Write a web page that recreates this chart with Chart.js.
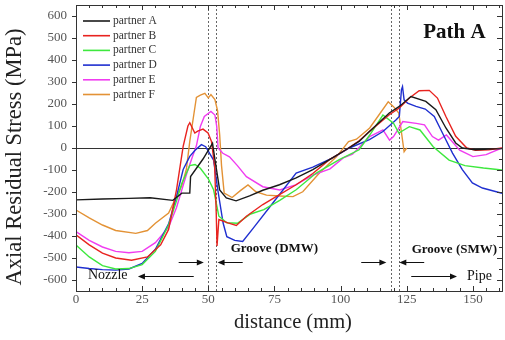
<!DOCTYPE html>
<html>
<head>
<meta charset="utf-8">
<script src="https://cdn.jsdelivr.net/npm/chart.js@4/dist/chart.umd.min.js"></script>
<style>
html,body{margin:0;padding:0;background:#fff;}
#wrap{width:505px;height:340px;}
</style>
</head>
<body>
<div id="wrap"><canvas id="c" width="505" height="340"></canvas></div>
<script>
// ---- data ----
const seriesNames = ["partner A","partner B","partner C","partner D","partner E","partner F"];

const aX = [0,10,20,28,36.6,40,43,43.3,48,51.6,52.6,54.3,56.8,60.5,65.6,70.6,76.9,83.2,89.5,95.8,102,107,110.9,118.4,122.2,126.6,132.2,136,139.8,143.5,146,151,156,161];
const aY = [-236,-232,-229,-226,-238,-205,-205,-130,-50,21,-60,-191,-227,-240,-218,-192,-167,-136,-98,-53,-8,30,75,159,189,234,212,174,91,23,0,-8,-5,-3];

const bX = [0,5,10,15,21,27,32,35,38,40.5,42.3,43,44.9,46,48,49.9,51.2,52.4,53,53.3,54,57.4,60.6,64.4,70.6,76.9,83.2,89.5,95.8,102,107,110.9,118.4,122.2,126,129.7,133.5,136.6,139.8,143.5,147.7,151,156,161];
const bY = [-395,-440,-478,-500,-510,-495,-440,-370,-189,7,100,115,68,77,86,68,30,-83,-295,-445,-325,-340,-352,-310,-257,-212,-167,-116,-53,-8,33,75,151,182,227,260,262,227,143,53,0,-10,-8,0];

const cX = [0,5,10,15,20,25,30,35,38,40,43,45,47,50,52,54,57,61,66,71,77,83.2,90.8,99.5,107,111,116,120,122,126,130,135,141,147,154,161];
const cY = [-441,-495,-535,-550,-548,-530,-470,-350,-240,-160,-80,-75,-92,-140,-190,-310,-340,-342,-300,-280,-238,-190,-114,-53,-8,59,150,113,68,97,82,6,-55,-80,-91,-100];

const dX = [0,5,10,15,20,25,30,35,38,40.5,43,45,47.4,49,52,53.6,55.6,57,60,63,67,74.4,83.2,89.5,97,103.3,110.9,116,121,122.2,123,123.4,124,125.3,128.5,132,135.4,138.5,142.3,146,149.8,153.6,161];
const dY = [-541,-548,-553,-555,-550,-525,-460,-345,-220,-98,-38,-10,15,6,-55,-191,-341,-403,-420,-425,-364,-250,-114,-87,-45,0,38,75,128,143,265,279,219,204,189,177,143,68,-23,-98,-159,-182,-206];

const eX = [0,5,10,15,20,25,30,35,38,40,42,44,45.5,47,48.5,51,52.5,53.2,53.7,55.5,58,61,64.4,70.6,77,83,89.5,96,101,104.5,111,116,118.5,120,121.6,123.5,128.6,131.7,134.7,137,140,145,150,155,161];
const eY = [-380,-420,-450,-470,-476,-470,-430,-360,-270,-190,-110,-40,10,98,143,166,150,97,0,-24,-40,-80,-130,-176,-191,-168,-123,-95,-45,-28,52,82,36,52,82,120,112,105,52,36,59,-10,-39,-30,0];

const fX = [0,5,10,15,22.6,27,30,35,38,40,41.7,43,44.5,45.5,47,48.7,50,51,52.5,53.5,54.3,55,56,59,62,65,68,72,77,82,85.7,92,98.5,103,106,111,118,120,122,124,125];
const fY = [-282,-318,-350,-375,-388,-375,-342,-296,-220,-170,-98,30,150,230,240,248,228,243,220,170,60,-80,-205,-225,-195,-168,-199,-214,-218,-221,-199,-114,-39,29,40,91,210,188,159,-17,0];

const xTickValues = [0,25,50,75,100,125,150];
const yTickValues = [-600,-500,-400,-300,-200,-100,0,100,200,300,400,500,600];
const grooveLines = [50,53,119,122];

const colors = ["#1a1a1a","#e8231f","#3ee83e","#1f2fd0","#f03cf0","#e39235"];

function pts(xs, ys){ return xs.map((x,i)=>({x:x,y:ys[i]})); }
const allX=[aX,bX,cX,dX,eX,fX], allY=[aY,bY,cY,dY,eY,fY];

const SERIF = "'Liberation Serif','DejaVu Serif',serif";
const xTitle = "distance (mm)";
const yTitle = "Axial Residual Stress (MPa)";

const decor = {
  id:'decor',
  beforeDatasetsDraw(chart){
    const {ctx, chartArea:ca, scales:{x,y}} = chart;
    ctx.save();
    ctx.strokeStyle='#333'; ctx.lineWidth=1.2;
    ctx.beginPath(); const y0=Math.round(y.getPixelForValue(0))+0.5;
    ctx.moveTo(ca.left,y0); ctx.lineTo(ca.right,y0); ctx.stroke();
    ctx.strokeStyle='#666'; ctx.lineWidth=1; ctx.setLineDash([2,2]);
    grooveLines.forEach(v=>{
      const px=Math.round(x.getPixelForValue(v))+0.5;
      ctx.beginPath(); ctx.moveTo(px,ca.top); ctx.lineTo(px,ca.bottom); ctx.stroke();
    });
    ctx.restore();
  },
  afterDraw(chart){
    const {ctx, chartArea:ca, scales:{x,y}} = chart;
    ctx.save();
    ctx.strokeStyle='#333'; ctx.lineWidth=1;
    ctx.strokeRect(Math.round(ca.left)+0.5, Math.round(ca.top)+0.5, Math.round(ca.right-ca.left), Math.round(ca.bottom-ca.top));
    for(let v=0; v<=160; v+=5){
      const px=Math.round(x.getPixelForValue(v))+0.5;
      const len = (v%25===0)?5:3;
      ctx.beginPath();
      ctx.moveTo(px,ca.bottom); ctx.lineTo(px,ca.bottom-len);
      ctx.moveTo(px,ca.top); ctx.lineTo(px,ca.top+len);
      ctx.stroke();
    }
    for(let v=-600; v<=600; v+=50){
      const py=Math.round(y.getPixelForValue(v))+0.5;
      const major = v%100===0;
      ctx.beginPath();
      if(major){ ctx.moveTo(ca.left-4,py); ctx.lineTo(ca.left,py); }
      ctx.moveTo(ca.right,py); ctx.lineTo(ca.right-(major?5:3),py);
      ctx.stroke();
    }
    // axis titles
    ctx.fillStyle='#222'; ctx.textAlign='center'; ctx.textBaseline='middle';
    ctx.font = "20.5px "+SERIF;
    ctx.fillText(xTitle, 293, 323);
    ctx.save();
    ctx.translate(15, 157); ctx.rotate(-Math.PI/2);
    ctx.font = "22.5px "+SERIF;
    ctx.fillText(yTitle, 0, 0);
    ctx.restore();
    // legend
    ctx.font = "11.5px "+SERIF;
    ctx.textBaseline='middle'; ctx.textAlign='left';
    chart.data.datasets.forEach((ds,i)=>{
      const ly = 21 + i*14.7;
      ctx.strokeStyle=ds.borderColor; ctx.lineWidth=1.6;
      ctx.beginPath(); ctx.moveTo(83,ly); ctx.lineTo(110,ly); ctx.stroke();
      ctx.fillStyle='#333'; ctx.fillText(ds.label, 113, ly);
    });
    // annotations
    ctx.fillStyle='#111';
    ctx.textAlign='center';
    ctx.font = "bold 21px "+SERIF;
    ctx.fillText("Path A", x.getPixelForValue(143), y.getPixelForValue(523));
    ctx.font = "bold 13px "+SERIF;
    ctx.fillText("Groove (DMW)", x.getPixelForValue(75), y.getPixelForValue(-458));
    ctx.fillText("Groove (SMW)", x.getPixelForValue(143), y.getPixelForValue(-462));
    ctx.font = "14px "+SERIF;
    ctx.fillText("Nozzle", x.getPixelForValue(12), y.getPixelForValue(-580));
    ctx.fillText("Pipe", x.getPixelForValue(152.5), y.getPixelForValue(-584));
    function arrow(x1,x2,yv){
      const p1=x.getPixelForValue(x1), p2=x.getPixelForValue(x2), py=Math.round(y.getPixelForValue(yv))+0.5;
      const dir = p2>p1?1:-1;
      ctx.strokeStyle='#111'; ctx.fillStyle='#111'; ctx.lineWidth=1;
      ctx.beginPath(); ctx.moveTo(p1,py); ctx.lineTo(p2-dir*5,py); ctx.stroke();
      ctx.beginPath(); ctx.moveTo(p2,py); ctx.lineTo(p2-dir*7,py-3); ctx.lineTo(p2-dir*7,py+3); ctx.closePath(); ctx.fill();
    }
    arrow(38.8,48.3,-516);
    arrow(63,53.5,-516);
    arrow(107.8,117.3,-516);
    arrow(131.6,122.2,-516);
    arrow(44.5,23.4,-583);
    arrow(126.7,144,-584);
    ctx.restore();
  }
};

new Chart(document.getElementById('c'), {
  type:'line',
  data:{
    datasets: seriesNames.map((n,i)=>({
      label:n, data:pts(allX[i],allY[i]), borderColor:colors[i], backgroundColor:colors[i],
      borderWidth:1.4, pointRadius:0, tension:0, fill:false
    }))
  },
  options:{
    responsive:false, animation:false,
    layout:{padding:{top:5,right:3,left:0,bottom:0}},
    plugins:{legend:{display:false}, tooltip:{enabled:false}},
    scales:{
      x:{
        type:'linear', min:0, max:161,
        afterBuildTicks(s){ s.ticks = xTickValues.map(v=>({value:v})); },
        afterFit(s){ s.height = 49; s.paddingLeft = 0; s.paddingRight = 0; },
        grid:{display:false, drawTicks:false}, border:{display:false},
        ticks:{color:'#555', font:{family:SERIF,size:13}, padding:1, maxRotation:0},
        title:{display:false}
      },
      y:{
        type:'linear', min:-650, max:650,
        afterBuildTicks(s){ s.ticks = yTickValues.map(v=>({value:v})); },
        afterFit(s){ s.width = 76; s.paddingTop = 0; s.paddingBottom = 0; },
        grid:{display:false, drawTicks:false}, border:{display:false},
        ticks:{color:'#555', font:{family:SERIF,size:13}, padding:9},
        title:{display:false}
      }
    }
  },
  plugins:[decor]
});
</script>
</body>
</html>
